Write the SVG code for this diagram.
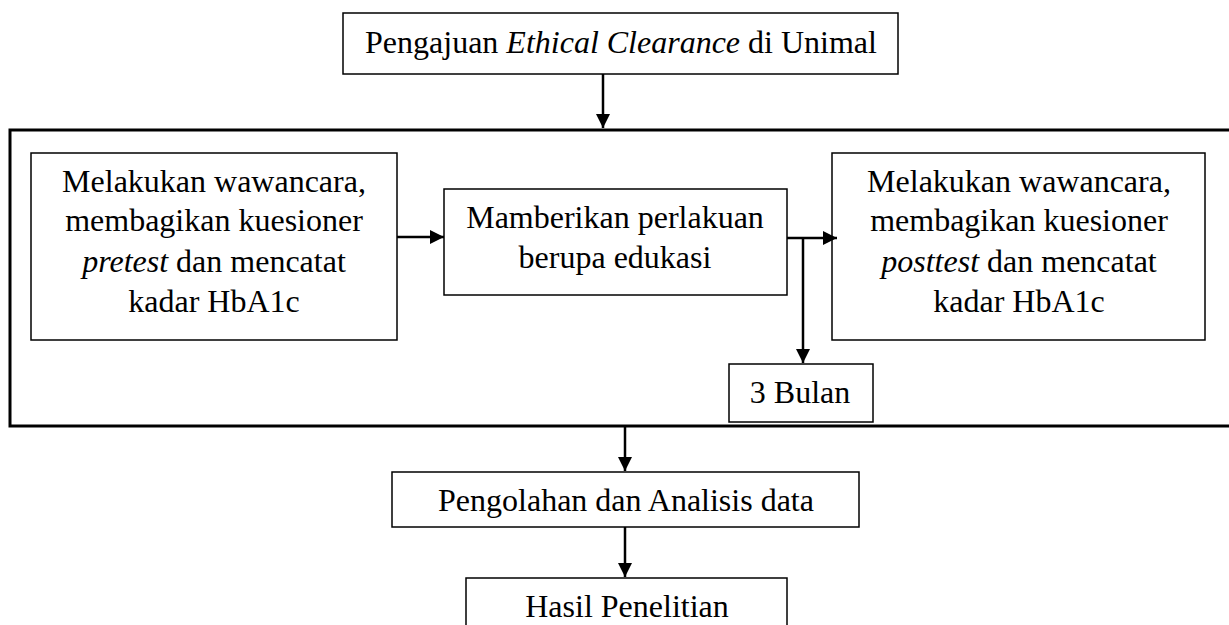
<svg xmlns="http://www.w3.org/2000/svg" width="1229" height="625" viewBox="0 0 1229 625">
<style>
.box{fill:#fff;stroke:#000;stroke-width:1.5}
.outer{fill:none;stroke:#000;stroke-width:3}
.t{font-family:'Liberation Serif','Times New Roman',serif;font-size:32px;fill:#000;text-anchor:middle}
.i{font-style:italic}
.c{stroke:#000;stroke-width:2.5;fill:none}
</style>
<defs>
<marker id="ah" markerWidth="14" markerHeight="14" refX="14" refY="7" orient="auto" markerUnits="userSpaceOnUse" viewBox="0 0 14 14">
<path d="M0,0 L14,7 L0,14 z" fill="#000"/>
</marker>
</defs>
<rect width="1229" height="625" fill="#fff"/>
<g id="outer"><rect class="outer" x="10" y="130" width="1230" height="296"/></g>
<g id="top"><rect class="box" x="343" y="13" width="555" height="61"/>
<text class="t" x="621" y="53" font-size="31.5">Pengajuan <tspan class="i">Ethical Clearance</tspan> di Unimal</text></g>
<g id="left"><rect class="box" x="31" y="153" width="366" height="187"/>
<text class="t" x="214" y="192">Melakukan wawancara,</text>
<text class="t" x="214" y="231">membagikan kuesioner</text>
<text class="t" x="214" y="272"><tspan class="i">pretest</tspan> dan mencatat</text>
<text class="t" x="214" y="312">kadar HbA1c</text></g>
<g id="mid"><rect class="box" x="444" y="189" width="343" height="106"/>
<text class="t" x="615" y="228">Mamberikan perlakuan</text>
<text class="t" x="615" y="268">berupa edukasi</text></g>
<g id="right"><rect class="box" x="832" y="153" width="373" height="187"/>
<text class="t" x="1019" y="192">Melakukan wawancara,</text>
<text class="t" x="1019" y="231">membagikan kuesioner</text>
<text class="t" x="1019" y="272"><tspan class="i">posttest</tspan> dan mencatat</text>
<text class="t" x="1019" y="312">kadar HbA1c</text></g>
<g id="bulan"><rect class="box" x="729" y="364" width="144" height="58"/>
<text class="t" x="800" y="403">3 Bulan</text></g>
<g id="olah"><rect class="box" x="392" y="472" width="467" height="55"/>
<text class="t" x="626" y="511">Pengolahan dan Analisis data</text></g>
<g id="hasil"><rect class="box" x="466" y="578" width="321" height="60"/>
<text class="t" x="627" y="617">Hasil Penelitian</text></g>
<g id="connectors">
<line class="c" x1="603" y1="74" x2="603" y2="128" marker-end="url(#ah)"/>
<line class="c" x1="397" y1="237" x2="444" y2="237" marker-end="url(#ah)"/>
<line class="c" x1="787" y1="238" x2="837" y2="238" marker-end="url(#ah)"/>
<line class="c" x1="803" y1="238" x2="803" y2="363" marker-end="url(#ah)"/>
<line class="c" x1="625" y1="427" x2="625" y2="471" marker-end="url(#ah)"/>
<line class="c" x1="625" y1="527" x2="625" y2="577" marker-end="url(#ah)"/>
</g>
</svg>
